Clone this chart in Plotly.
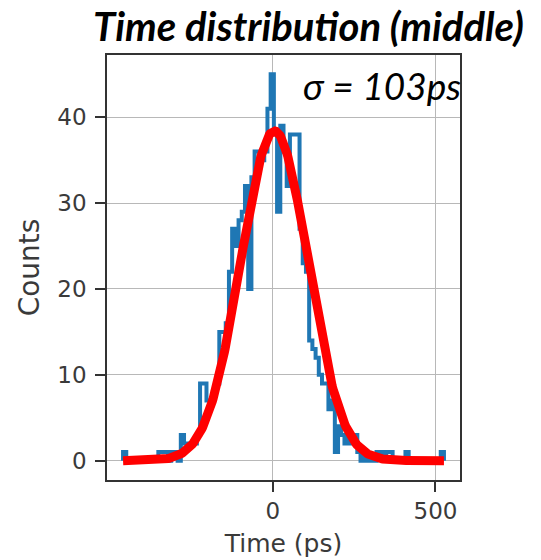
import numpy as np
import plotly.graph_objects as go

# ---- data ----
hist_range = [-460.0, 526.0]          # ps, histogram extent
counts = [
    1, 0, 0, 0, 0, 0, 0, 0, 0, 0,
    0, 1, 1, 1, 0, 1, 1, 0, 3, 2,
    2, 2, 2, 3, 9, 9, 7, 7, 8, 9,
    15, 15, 16, 22, 27, 25, 28, 29, 32, 20,
    33, 36, 36, 35, 36, 41, 45, 38, 29, 39,
    36, 32, 38, 38, 38, 27, 23, 22, 14, 13,
    12, 10, 9, 9, 6, 7, 1, 4, 3, 2,
    3, 2, 3, 1, 0, 1, 0, 0, 0, 1,
    1, 0, 1, 1, 0, 0, 0, 0, 1, 0,
    0, 0, 0, 0, 0, 0, 0, 0, 0, 1,
]
fit_amp = 38.4      # counts
fit_mean = 5.0      # ps
fit_sigma = 103.0   # ps
x_ticks = [0, 500]
y_ticks = [0, 10, 20, 30, 40]
title_text = "Time distribution (middle)"
sigma_text = "σ = 103ps"
x_label = "Time (ps)"
y_label = "Counts"

# ---- derived ----
n = len(counts)
edges = np.linspace(hist_range[0], hist_range[1], n + 1)
step_x = np.concatenate([[edges[0]], edges[:-1], [edges[-1], edges[-1]]])
step_y = np.concatenate([[0], counts, [counts[-1], 0]])

fx = np.linspace(hist_range[0], hist_range[1], 400)
fy = fit_amp * np.exp(-0.5 * ((fx - fit_mean) / fit_sigma) ** 2)

span = hist_range[1] - hist_range[0]
xr = [hist_range[0] - 0.05 * span, hist_range[1] + 0.05 * span]
ymax = max(counts)
yr = [-0.05 * ymax, ymax * 1.05]

fig = go.Figure()
fig.add_trace(go.Scatter(x=step_x, y=step_y, mode="lines", line_shape="hv",
                         line=dict(color="#1f77b4", width=4), hoverinfo="skip"))
fig.add_trace(go.Scatter(x=fx, y=fy, mode="lines",
                         line=dict(color="#ff0000", width=9), hoverinfo="skip"))

axis_common = dict(showline=True, mirror=True, linecolor="#333333", linewidth=1.5,
                   ticks="outside", ticklen=10, tickwidth=1.5, tickcolor="#333333",
                   showgrid=True, gridcolor="#b8b8b8", gridwidth=1.2, zeroline=False,
                   automargin=False,
                   tickfont=dict(family="DejaVu Sans", size=23, color="#3a3a3a"))

# the page adds an 8px body margin, so the figure is 8px smaller and offset
fig.update_layout(
    width=533, height=552,
    margin=dict(l=99, r=81, t=47, b=80, autoexpand=False),
    paper_bgcolor="white", plot_bgcolor="white",
    showlegend=False,
    xaxis=dict(range=xr, tickvals=x_ticks, ticklabelstandoff=0, **axis_common,
               title=dict(text=x_label, standoff=11,
                          font=dict(family="DejaVu Sans", size=25, color="#3a3a3a"))),
    yaxis=dict(range=yr, tickvals=y_ticks, ticklabelstandoff=4, **axis_common,
               title=dict(text=y_label, standoff=10,
                          font=dict(family="DejaVu Sans", size=28, color="#3a3a3a"))),
    annotations=[
        dict(text=title_text, xref="paper", yref="paper", x=0.570, y=1.068,
             xanchor="center", yanchor="middle", showarrow=False,
             font=dict(family="Lato", size=40, color="black", weight="bold", style="italic")),
        dict(text=sigma_text, xref="paper", yref="paper", x=0.778, y=0.928,
             xanchor="center", yanchor="middle", showarrow=False,
             font=dict(family="Lato", size=37, color="black", style="italic")),
    ],
)

fig.write_html("out.html")
